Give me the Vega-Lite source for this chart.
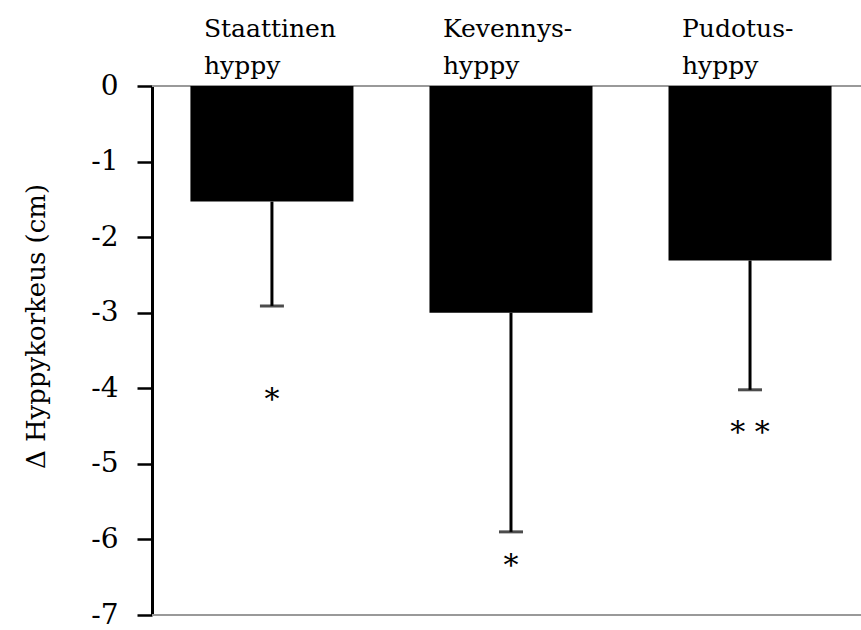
{
  "$schema": "https://vega.github.io/schema/vega-lite/v6.json",
  "width": 709,
  "height": 529,
  "autosize": {"type": "none"},
  "padding": {"left": 152, "top": 86, "right": 0, "bottom": 15},
  "background": "white",
  "config": {
    "view": {"stroke": null},
    "font": "DejaVu Serif"
  },
  "datasets": {
    "bars": [
      {"cat": "Staattinen hyppy", "label": ["Staattinen", "hyppy"], "mean": -1.53, "lower": -2.91, "star": "*", "star_y": -4.06},
      {"cat": "Kevennyshyppy", "label": ["Kevennys-", "hyppy"], "mean": -3.0, "lower": -5.9, "star": "*", "star_y": -6.26},
      {"cat": "Pudotushyppy", "label": ["Pudotus-", "hyppy"], "mean": -2.31, "lower": -4.02, "star": "* *", "star_y": -4.5}
    ],
    "refs": [{"v": 0}, {"v": -7}]
  },
  "layer": [
    {
      "data": {"name": "refs"},
      "mark": {"type": "rule", "color": "#999999", "strokeWidth": 2},
      "encoding": {
        "y": {"field": "v", "type": "quantitative", "scale": {"domain": [-7, 0], "nice": false, "zero": false},
          "axis": {
            "values": [0, -1, -2, -3, -4, -5, -6, -7],
            "labelExpr": "toString(datum.value)",
            "labelFont": "DejaVu Serif",
            "labelFontSize": 28,
            "labelColor": "black",
            "labelPadding": 19,
            "domainColor": "black",
            "domainWidth": 3,
            "tickColor": "black",
            "tickWidth": 2.5,
            "tickSize": 15,
            "grid": false,
            "title": "Δ  Hyppykorkeus (cm)",
            "titleFont": "DejaVu Serif",
            "titleFontSize": 26,
            "titleFontWeight": "normal",
            "titleColor": "black",
            "titleX": -116,
            "titleY": 240,
            "titleAlign": "center",
            "titleBaseline": "middle"
          }
        }
      }
    },
    {
      "data": {"name": "bars"},
      "mark": {"type": "bar", "color": "black"},
      "encoding": {
        "x": {"field": "cat", "type": "nominal", "sort": null,
          "scale": {"paddingInner": 0.318, "paddingOuter": 0.142, "align": 0.566},
          "axis": null},
        "y": {"field": "mean", "type": "quantitative"}
      }
    },
    {
      "data": {"name": "bars"},
      "mark": {"type": "rule", "color": "black", "strokeWidth": 3},
      "encoding": {
        "x": {"field": "cat", "type": "nominal", "sort": null},
        "y": {"field": "mean", "type": "quantitative"},
        "y2": {"field": "lower"}
      }
    },
    {
      "data": {"name": "bars"},
      "mark": {"type": "tick", "color": "black", "size": 24, "thickness": 3},
      "encoding": {
        "x": {"field": "cat", "type": "nominal", "sort": null},
        "y": {"field": "lower", "type": "quantitative"}
      }
    },
    {
      "data": {"name": "bars"},
      "mark": {"type": "text", "font": "DejaVu Serif", "fontSize": 30, "color": "black", "baseline": "alphabetic", "align": "center", "dy": 16},
      "encoding": {
        "x": {"field": "cat", "type": "nominal", "sort": null},
        "y": {"field": "star_y", "type": "quantitative"},
        "text": {"field": "star"}
      }
    },
    {
      "data": {"name": "bars"},
      "mark": {"type": "text", "font": "DejaVu Serif", "fontSize": 25, "color": "black", "baseline": "alphabetic", "align": "left", "dx": -68, "dy": -49, "lineHeight": 37},
      "encoding": {
        "x": {"field": "cat", "type": "nominal", "sort": null},
        "y": {"datum": 0, "type": "quantitative"},
        "text": {"field": "label"}
      }
    }
  ]
}
